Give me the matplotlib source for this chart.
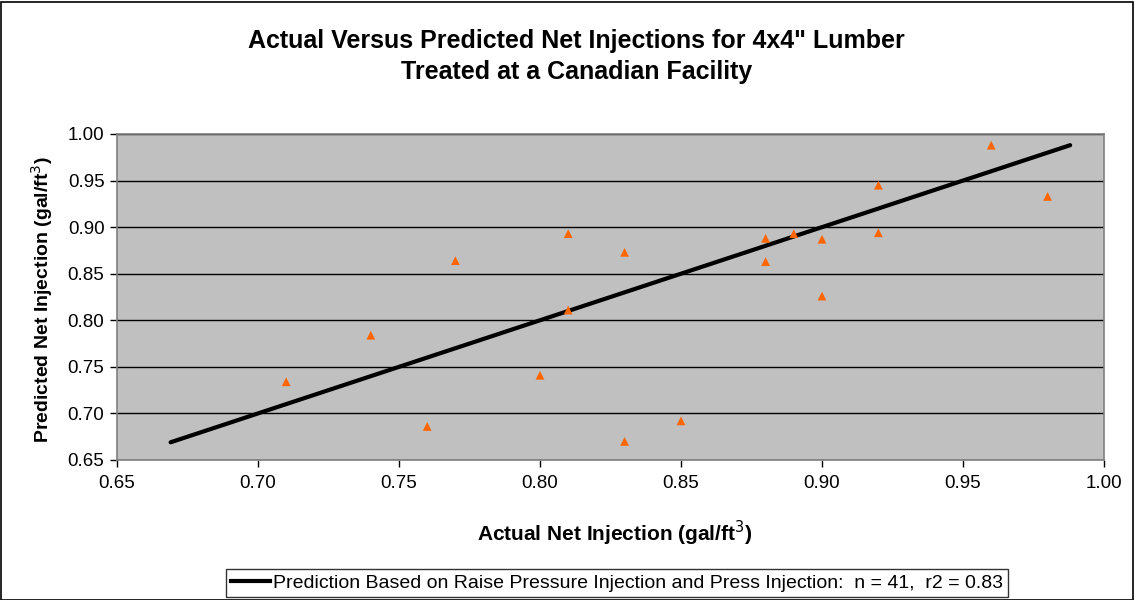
import matplotlib
matplotlib.use("Agg")
import matplotlib.pyplot as plt
from matplotlib.patches import Rectangle
from matplotlib.lines import Line2D

plt.rcParams['font.family'] = ['Liberation Sans', 'DejaVu Sans']

# Observed data (actual vs predicted net injection)
actual = [0.71, 0.74, 0.76, 0.77, 0.80, 0.81, 0.81, 0.83, 0.83, 0.85,
          0.88, 0.88, 0.89, 0.90, 0.90, 0.92, 0.92, 0.96, 0.98]
predicted = [0.734, 0.784, 0.686, 0.864, 0.741, 0.893, 0.811, 0.873, 0.670, 0.692,
             0.888, 0.863, 0.893, 0.887, 0.826, 0.945, 0.894, 0.988, 0.933]

# 1:1 prediction line
line_x = [0.669, 0.988]
line_y = [0.669, 0.988]

xticks = [0.65, 0.70, 0.75, 0.80, 0.85, 0.90, 0.95, 1.00]
yticks = [0.65, 0.70, 0.75, 0.80, 0.85, 0.90, 0.95, 1.00]

W, H = 1135, 600
fig = plt.figure(figsize=(W / 100, H / 100), dpi=100)
fig.patch.set_facecolor('white')

ax = fig.add_axes([117 / W, 1 - 460 / H, (1104 - 117) / W, (460 - 134) / H])
ax.set_facecolor('#C0C0C0')
for s in ax.spines.values():
    s.set_color('#808080')
    s.set_linewidth(1.2)

ax.set_xlim(0.65, 1.00)
ax.set_ylim(0.65, 1.00)
ax.set_xticks(xticks)
ax.set_yticks(yticks)
ax.set_xticklabels([f"{v:.2f}" for v in xticks])
ax.set_yticklabels([f"{v:.2f}" for v in yticks])
ax.tick_params(axis='both', direction='out', length=5, width=1, color='black',
               labelsize=13.5, pad=4)
ax.tick_params(axis='x', pad=6)
ax.yaxis.grid(True, color='black', linewidth=1)
ax.set_axisbelow(True)

ax.plot(line_x, line_y, color='black', linewidth=3, solid_capstyle='round', zorder=3)
ax.scatter(actual, predicted, marker='^', s=40, color='#FF6600', edgecolors='none', zorder=4)

fig.text(576 / W, 1 - 41 / H, 'Actual Versus Predicted Net Injections for 4x4" Lumber',
         ha='center', va='center', fontsize=18, fontweight='bold')
fig.text(577 / W, 1 - 72 / H, 'Treated at a Canadian Facility',
         ha='center', va='center', fontsize=18, fontweight='bold')

fig.text(615 / W, 1 - 533 / H, 'Actual Net Injection (gal/ft$^3$)',
         ha='center', va='center', fontsize=15, fontweight='bold')
fig.text(42 / W, 1 - 300 / H, 'Predicted Net Injection (gal/ft$^3$)',
         ha='center', va='center', fontsize=14, fontweight='bold', rotation=90)

handle = Line2D([], [], color='black', linewidth=3)
leg = fig.legend([handle],
                 ['Prediction Based on Raise Pressure Injection and Press Injection:  n = 41,  r2 = 0.83'],
                 loc='center', bbox_to_anchor=(617 / W, 1 - 583 / H),
                 fontsize=14, frameon=True, fancybox=False, handlelength=2.0,
                 handletextpad=0.2, borderpad=0.25, borderaxespad=0)
leg.get_frame().set_edgecolor('black')
leg.get_frame().set_linewidth(1)

fig.add_artist(Rectangle((1 / W, 0), (W - 3) / W, 1 - 2 / H, transform=fig.transFigure,
                         fill=False, edgecolor='black', linewidth=1.2))

fig.savefig('out.png', dpi=100)
